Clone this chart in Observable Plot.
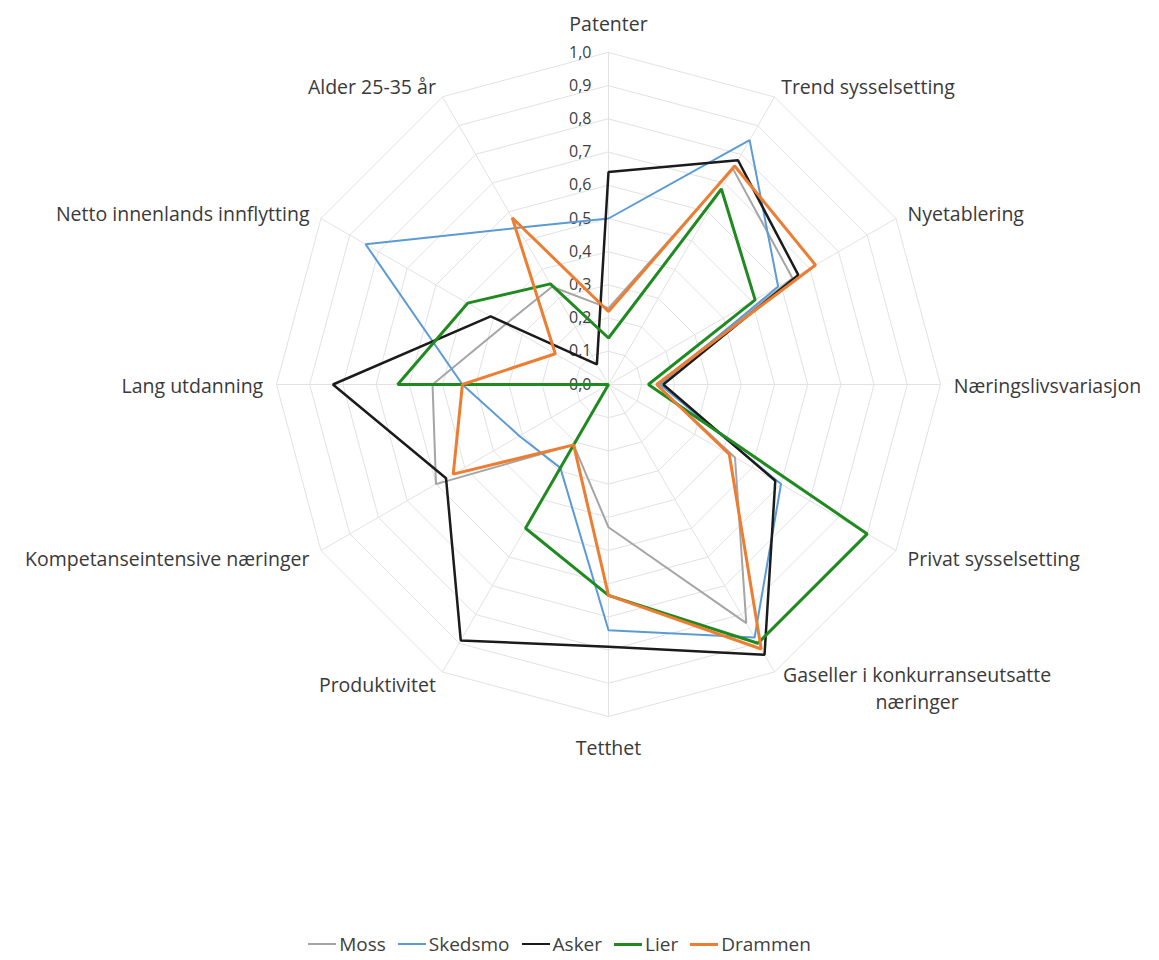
<!DOCTYPE html>
<html><head><meta charset="utf-8">
<script src="https://cdn.jsdelivr.net/npm/d3@7"></script>
<script src="https://cdn.jsdelivr.net/npm/@observablehq/plot@0.6"></script>
<style>
body{margin:0;background:#fff;font-family:"Open Sans",Lato,sans-serif;}
#legend{display:flex;justify-content:center;align-items:center;height:38px;transform:translateX(-20px);font-size:19px;color:#404040;}
.item{display:flex;align-items:center;margin:0 6px;}
.sw{width:28px;height:0;border-top:3px solid;margin-right:3px;}
</style></head><body>
<div id="chart"></div><div id="legend"></div>
<script>
const categories = ["Patenter","Trend sysselsetting","Nyetablering","Næringslivsvariasjon","Privat sysselsetting","Gaseller i konkurranseutsatte næringer","Tetthet","Produktivitet","Kompetanseintensive næringer","Lang utdanning","Netto innenlands innflytting","Alder 25-35 år"];
const axisLabels = ["Patenter","Trend sysselsetting","Nyetablering","Næringslivsvariasjon","Privat sysselsetting","Gaseller i konkurranseutsatte\nnæringer","Tetthet","Produktivitet","Kompetanseintensive næringer","Lang utdanning","Netto innenlands innflytting","Alder 25-35 år"];
const seriesNames = ["Moss","Skedsmo","Asker","Lier","Drammen"];
const moss    = [0.23, 0.75, 0.64, 0.145, 0.44, 0.83, 0.43, 0.21, 0.60, 0.53, 0.36, 0.34];
const skedsmo = [0.50, 0.85, 0.59, 0.155, 0.60, 0.88, 0.74, 0.29, 0.31, 0.44, 0.845, 0.545];
const asker   = [0.64, 0.78, 0.66, 0.165, 0.58, 0.94, 0.79, 0.89, 0.565, 0.83, 0.41, 0.07];
const lier    = [0.14, 0.68, 0.51, 0.12, 0.90, 0.90, 0.635, 0.50, 0.0, 0.635, 0.49, 0.35];
const drammen = [0.22, 0.76, 0.72, 0.145, 0.42, 0.92, 0.635, 0.21, 0.54, 0.44, 0.185, 0.58];
const seriesColors = ["#a5a5a5","#5b9bd5","#1b1b1b","#1f8a1f","#ed7d31"];
const seriesWidths = [2,2,2.5,3,3];
const tickValues = [0,0.1,0.2,0.3,0.4,0.5,0.6,0.7,0.8,0.9,1.0];
const tickLabels = ["0,0","0,1","0,2","0,3","0,4","0,5","0,6","0,7","0,8","0,9","1,0"];

const W=1159,H=925,CX=608,CY=384,R=332;
const n=categories.length;
const ang = i => i*2*Math.PI/n;
const px = (i,v) => v*Math.sin(ang(i));
const py = (i,v) => v*Math.cos(ang(i));
const values = [moss, skedsmo, asker, lier, drammen];
const gridRows = tickValues.slice(1).flatMap(t=>categories.map((c,i)=>({t,i})));
const LR = 1.04;

const labelMarks = categories.map((c,i)=>{
  const s = Math.sin(ang(i));
  let anchor = Math.abs(s)<1e-6 ? "middle" : (s>0 ? "start" : "end");
  let dx = 0, dy = 0;
  if (i===0) dy=-17;
  if (i===6) dy=16;
  if (c.startsWith("Gaseller")) { anchor="middle"; dx=136; dy=3; }
  return Plot.text([c], {x:()=>px(i,LR), y:()=>py(i,LR), text:()=>axisLabels[i], textAnchor:anchor, dx, dy, fontSize:19.5, fill:"#3a3a3a", lineHeight:1.4});
});

const chart = Plot.plot({
  width:W, height:H, margin:0,
  x:{domain:[-CX/R,(W-CX)/R], range:[0,W], axis:null},
  y:{domain:[-(H-CY)/R, CY/R], range:[H,0], axis:null},
  style:{fontFamily:"'Open Sans', Lato, sans-serif", background:"#fff"},
  marks:[
    Plot.line(gridRows, {x:d=>px(d.i,d.t), y:d=>py(d.i,d.t), z:"t", curve:"linear-closed", stroke:"#e2e2e2", strokeWidth:1}),
    Plot.link(categories, {x1:0, y1:0, x2:(d,i)=>px(i,1), y2:(d,i)=>py(i,1), stroke:"#e2e2e2", strokeWidth:1}),
    Plot.text(tickValues, {x:0, y:d=>d, text:(d,i)=>tickLabels[i], dx:-17, textAnchor:"end", fontSize:16, fill:"#404040"}),
    ...seriesNames.map((s,si)=>Plot.line(values[si].map((v,i)=>({i,v})), {x:d=>px(d.i,d.v), y:d=>py(d.i,d.v), curve:"linear-closed", stroke:seriesColors[si], strokeWidth:seriesWidths[si], strokeLinejoin:"miter"})),
    ...labelMarks
  ]
});
document.getElementById("chart").append(chart);

const lg = document.getElementById("legend");
seriesNames.forEach((s,si)=>{
  const it=document.createElement("div"); it.className="item";
  const sw=document.createElement("span"); sw.className="sw"; sw.style.borderTopColor=seriesColors[si]; sw.style.borderTopWidth=seriesWidths[si]+"px";
  const tx=document.createElement("span"); tx.textContent=s;
  it.append(sw,tx); lg.append(it);
});
</script>
</body></html>
